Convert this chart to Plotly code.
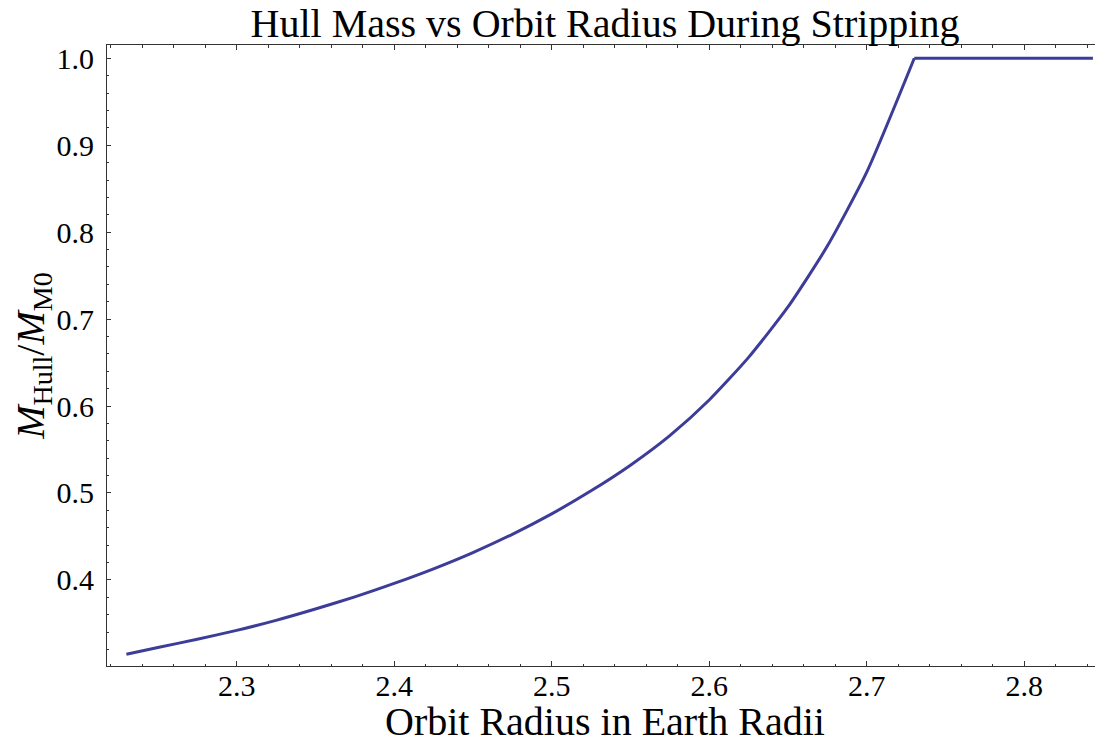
import plotly.graph_objects as go

# Data
radius = [2.230, 2.250, 2.275, 2.300, 2.325, 2.350, 2.375, 2.400, 2.425, 2.450,
          2.475, 2.500, 2.525, 2.550, 2.575, 2.600, 2.625, 2.650, 2.675, 2.700,
          2.7302]
mass_ratio = [0.3145, 0.3222, 0.3318, 0.3420, 0.3535, 0.3665, 0.3805, 0.3960, 0.4128,
              0.4315, 0.4525, 0.4760, 0.5025, 0.5320, 0.5660, 0.6070, 0.6560, 0.7140,
              0.7840, 0.8690, 1.0000]
# plateau after the stripping threshold
plateau_radius = [2.7302, 2.8436]
plateau_mass = [1.0, 1.0]

x_tickvals = [2.3, 2.4, 2.5, 2.6, 2.7, 2.8]
y_tickvals = [0.4, 0.5, 0.6, 0.7, 0.8, 0.9, 1.0]

FONT = "Liberation Serif"
AXC = "#333333"
LINEC = "#3d3d99"

# page body has an 8px margin; size the figure so the plot lands where the reference has it
W, H = 1095, 745
PT, PB = 37, 87          # plot top / bottom margins (figure px)
PLOT_H = H - PT - PB

fig = go.Figure()
fig.add_trace(go.Scatter(
    x=radius, y=mass_ratio, mode="lines",
    line=dict(color=LINEC, width=3, shape="spline", smoothing=0.6),
    showlegend=False, hoverinfo="skip",
))
fig.add_trace(go.Scatter(
    x=plateau_radius, y=plateau_mass, mode="lines",
    line=dict(color=LINEC, width=3),
    showlegend=False, hoverinfo="skip",
))

fig.update_layout(
    width=W, height=H,
    margin=dict(l=99, r=0, t=PT, b=PB, autoexpand=False),
    paper_bgcolor="white", plot_bgcolor="white",
    font=dict(family=FONT, color="black"),
    title=dict(
        text="Hull Mass vs Orbit Radius During Stripping",
        font=dict(family=FONT, size=40, color="black"),
        x=0.5, xref="paper", xanchor="center",
        y=1 - 15 / H, yref="container", yanchor="middle",
    ),
    xaxis=dict(
        range=[2.2177, 2.85], showgrid=False, zeroline=False,
        showline=True, linecolor=AXC, linewidth=1, mirror="allticks",
        ticks="inside", ticklen=5, tickwidth=1, tickcolor=AXC,
        tickvals=x_tickvals, tickformat=".1f",
        tickfont=dict(family=FONT, size=30, color="black"),
        ticklabelstandoff=-7,
        minor=dict(dtick=0.02, tick0=2.2, ticks="inside", ticklen=2.5,
                   tickwidth=1, tickcolor=AXC, showgrid=False),
    ),
    yaxis=dict(
        range=[0.301, 1.0153], showgrid=False, zeroline=False,
        showline=True, linecolor=AXC, linewidth=1, mirror=False,
        ticks="inside", ticklen=4, tickwidth=1, tickcolor=AXC,
        tickvals=y_tickvals, tickformat=".1f",
        tickfont=dict(family=FONT, size=30, color="black"),
        ticklabelstandoff=6,
        minor=dict(dtick=0.02, tick0=0.3, ticks="inside", ticklen=2,
                   tickwidth=1, tickcolor=AXC, showgrid=False),
        title=dict(text="<i>M</i><sub>Hull</sub>/<i>M</i><sub>M0</sub>",
                   font=dict(family=FONT, size=40, color="black"), standoff=15),
    ),
    annotations=[dict(
        text="Orbit Radius in Earth Radii",
        xref="paper", yref="paper", x=0.5, y=-(713 - (H - PB)) / PLOT_H,
        xanchor="center", yanchor="middle", showarrow=False,
        font=dict(family=FONT, size=40, color="black"),
    )],
)

fig.write_html("out.html")
